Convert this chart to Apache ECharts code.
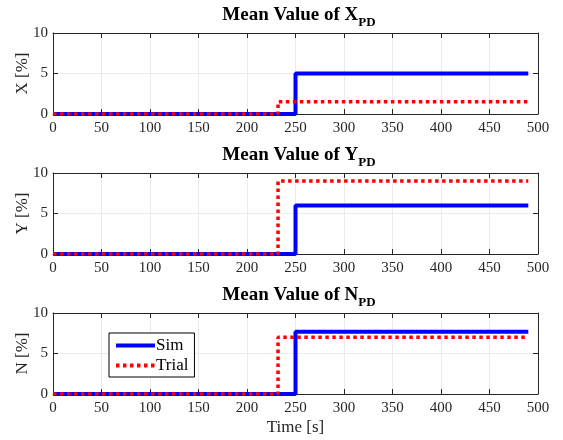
<!DOCTYPE html>
<html>
<head>
<meta charset="utf-8">
<script src="https://cdn.jsdelivr.net/npm/echarts@6/dist/echarts.min.js"></script>
<style>
html, body { margin: 0; padding: 0; background: #fff; }
#chart { width: 563px; height: 440px; }
</style>
</head>
<body>
<div id="chart"></div>
<script>
// panel labels
const panels = ['X', 'Y', 'N'];
// step times [s] and end of record
const simStep = 250, trialStep = 232, endTime = 490;
// final levels [%] per panel
const simLevel = [5, 6, 7.7];
const trialLevel = [1.5, 9, 7];
const xTicks = [0, 500, 50];
const yTicks = [0, 10, 5];

const font = 'Liberation Serif';
const ink = '#262626';
const gridTops = [33, 173, 313];
const H = 81;

let myChart = echarts.init(document.getElementById('chart'));

let grid = [], xAxis = [], yAxis = [], series = [], title = [];

panels.forEach((p, i) => {
    grid.push({left: 53, right: 25, top: gridTops[i], height: H, outerBoundsMode: 'none', containLabel: false});
    title.push({
        text: `{b|Mean Value of ${p}}{s|PD}`,
        left: 294, textAlign: 'center',
        top: gridTops[i] - 32,
        textStyle: {
            rich: {
                b: {fontFamily: font, fontWeight: 'bold', fontSize: 19, color: '#000', verticalAlign: 'top'},
                s: {fontFamily: font, fontWeight: 'bold', fontSize: 13, color: '#000', verticalAlign: 'top', padding: [10, 0, 0, 0]}
            }
        }
    });
    // bottom x
    xAxis.push({
        gridIndex: i, type: 'value', min: xTicks[0], max: xTicks[1], interval: xTicks[2],
        position: 'bottom',
        name: i == 2 ? 'Time [s]' : '', nameLocation: 'middle', nameGap: 25,
        nameTextStyle: {fontFamily: font, fontSize: 17, color: ink},
        axisLine: {onZero: false, lineStyle: {color: ink, width: 1}},
        axisTick: {show: true, inside: true, length: 5, lineStyle: {color: ink}},
        axisLabel: {fontFamily: font, fontSize: 15, color: ink, margin: 7},
        splitLine: {show: true, lineStyle: {color: '#ebebeb', width: 1}}
    });
    // top x (box)
    xAxis.push({
        gridIndex: i, type: 'value', min: xTicks[0], max: xTicks[1], interval: xTicks[2],
        position: 'top',
        axisLine: {onZero: false, lineStyle: {color: ink, width: 1}},
        axisTick: {show: true, inside: true, length: 5, lineStyle: {color: ink}},
        axisLabel: {show: false}, splitLine: {show: false}
    });
    yAxis.push({
        gridIndex: i, type: 'value', min: yTicks[0], max: yTicks[1], interval: yTicks[2],
        position: 'left',
        name: `${p} [%]`, nameLocation: 'middle', nameGap: 22, nameRotate: 90, nameMoveOverlap: false,
        nameTextStyle: {fontFamily: font, fontSize: 17, color: ink},
        axisLine: {show: true, onZero: false, lineStyle: {color: ink, width: 1}},
        axisTick: {show: true, inside: true, length: 5, lineStyle: {color: ink}},
        axisLabel: {fontFamily: font, fontSize: 15, color: ink, margin: 5},
        splitLine: {show: true, lineStyle: {color: '#ebebeb', width: 1}}
    });
    yAxis.push({
        gridIndex: i, type: 'value', min: yTicks[0], max: yTicks[1], interval: yTicks[2],
        position: 'right',
        axisLine: {show: true, onZero: false, lineStyle: {color: ink, width: 1}},
        axisTick: {show: true, inside: true, length: 5, lineStyle: {color: ink}},
        axisLabel: {show: false}, splitLine: {show: false}
    });
    series.push({
        name: 'Sim', type: 'line', step: 'end', symbol: 'none',
        xAxisIndex: i * 2, yAxisIndex: i * 2,
        lineStyle: {color: '#0000ff', width: 4},
        itemStyle: {color: '#0000ff'},
        data: [[0, 0], [simStep, simLevel[i]], [endTime, simLevel[i]]],
        z: 2
    });
    series.push({
        name: 'Trial', type: 'line', step: 'end', symbol: 'none',
        xAxisIndex: i * 2, yAxisIndex: i * 2,
        lineStyle: {color: '#ff0000', width: 3.5, type: [3.5, 3.5], cap: 'butt'},
        itemStyle: {color: '#ff0000'},
        data: [[0, 0], [trialStep, trialLevel[i]], [endTime, trialLevel[i]]],
        z: 3
    });
});

let option = {
    animation: false,
    backgroundColor: '#fff',
    title: title,
    legend: {
        data: ['Sim', 'Trial'],
        orient: 'vertical',
        left: 109, top: 333,
        itemWidth: 39, itemHeight: 13, itemGap: 3,
        padding: [4, 6, 3, 5],
        borderColor: '#000', borderWidth: 1,
        backgroundColor: '#fff',
        itemStyle: {color: 'rgba(0,0,0,0)', borderWidth: 0},
        lineStyle: {width: 4},
        textStyle: {fontFamily: font, fontSize: 17, color: '#000', padding: [0, 0, 0, -4]}
    },
    grid: grid,
    xAxis: xAxis,
    yAxis: yAxis,
    series: series
};
myChart.setOption(option);
</script>
</body>
</html>
